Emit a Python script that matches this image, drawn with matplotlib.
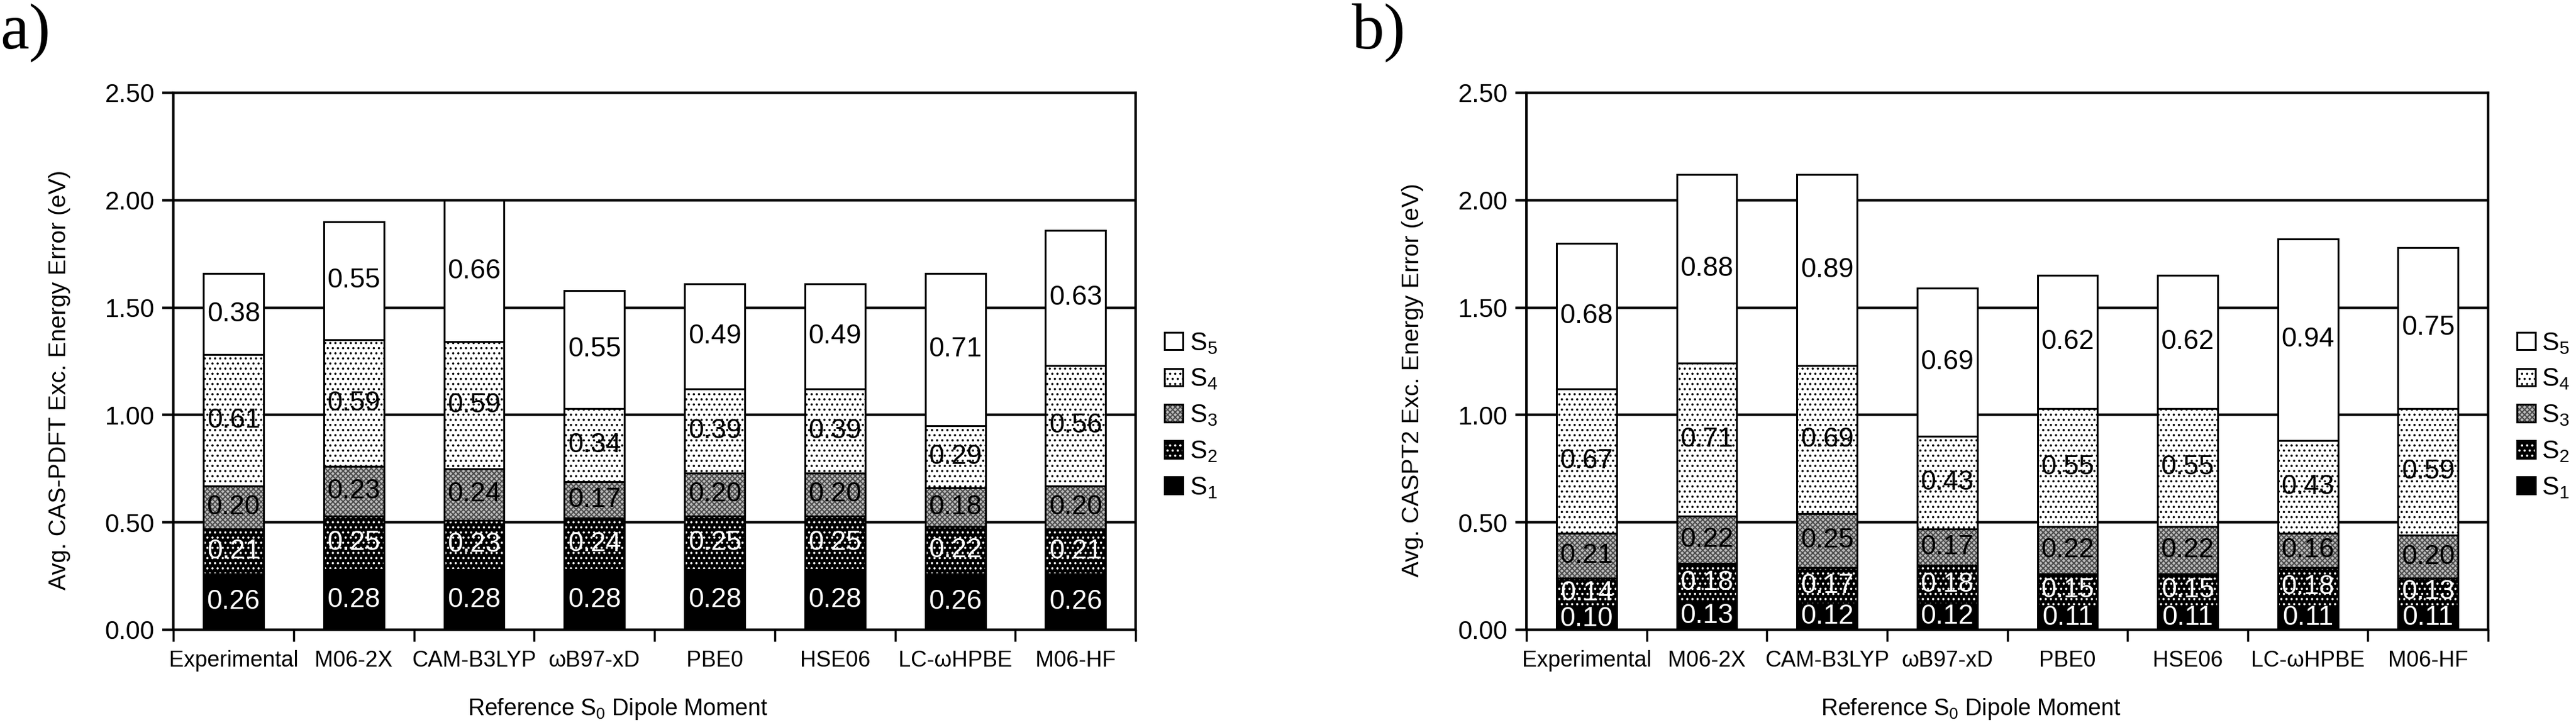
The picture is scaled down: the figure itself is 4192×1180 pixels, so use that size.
import matplotlib
matplotlib.use('Agg')
import matplotlib.pyplot as plt
from matplotlib.patches import Patch

# data
methods = ['Experimental', 'M06-2X', 'CAM-B3LYP', 'ωB97-xD', 'PBE0', 'HSE06', 'LC-ωHPBE', 'M06-HF']
states = ['S$_1$', 'S$_2$', 'S$_3$', 'S$_4$', 'S$_5$']

# panel a: CAS-PDFT
pdft_s1 = [0.26, 0.28, 0.28, 0.28, 0.28, 0.28, 0.26, 0.26]
pdft_s2 = [0.21, 0.25, 0.23, 0.24, 0.25, 0.25, 0.22, 0.21]
pdft_s3 = [0.20, 0.23, 0.24, 0.17, 0.20, 0.20, 0.18, 0.20]
pdft_s4 = [0.61, 0.59, 0.59, 0.34, 0.39, 0.39, 0.29, 0.56]
pdft_s5 = [0.38, 0.55, 0.66, 0.55, 0.49, 0.49, 0.71, 0.63]

# panel b: CASPT2
pt2_s1 = [0.10, 0.13, 0.12, 0.12, 0.11, 0.11, 0.11, 0.11]
pt2_s2 = [0.14, 0.18, 0.17, 0.18, 0.15, 0.15, 0.18, 0.13]
pt2_s3 = [0.21, 0.22, 0.25, 0.17, 0.22, 0.22, 0.16, 0.20]
pt2_s4 = [0.67, 0.71, 0.69, 0.43, 0.55, 0.55, 0.43, 0.59]
pt2_s5 = [0.68, 0.88, 0.89, 0.69, 0.62, 0.62, 0.94, 0.75]

# look of each state: face colour, hatch, hatch colour, label colour
styles = [
    ('black', '', 'black', 'white'),
    ('black', '..', 'white', 'white'),
    ('#bdbdbd', 'xxxx', '#4a4a4a', 'black'),
    ('white', '..', 'black', 'black'),
    ('white', '', 'black', 'black'),
]

plt.rcParams['font.family'] = ['Liberation Sans', 'DejaVu Sans']
plt.rcParams['mathtext.fontset'] = 'custom'
plt.rcParams['mathtext.rm'] = 'Liberation Sans'
plt.rcParams['mathtext.it'] = 'Liberation Sans'
plt.rcParams['hatch.linewidth'] = 1.4

fig = plt.figure(figsize=(41.92, 11.8), dpi=100)
ax_a = fig.add_axes([0.0673, 0.1314, 0.3736, 0.7407])
ax_b = fig.add_axes([0.5926, 0.1314, 0.3733, 0.7407])


def draw_panel(ax, series, ylabel):
    x = list(range(len(methods)))
    bottom = [0.0] * len(methods)
    handles = []
    for vals, (face, hatch, hcol, tcol), name in zip(series, styles, states):
        ax.bar(x, vals, 0.5, bottom=bottom, color=face, edgecolor=hcol,
               hatch=hatch, linewidth=0, zorder=2)
        ax.bar(x, vals, 0.5, bottom=bottom, fill=False, edgecolor='black',
               linewidth=2.2, zorder=3)
        for xi, v, b in zip(x, vals, bottom):
            ax.text(xi, b + v / 2, f'{v:.2f}', ha='center', va='center',
                    fontsize=32, color=tcol, zorder=4)
        bottom = [b + v for b, v in zip(bottom, vals)]
        handles.append((Patch(facecolor=face, edgecolor=hcol, hatch=hatch, linewidth=0),
                        Patch(fill=False, edgecolor='black', linewidth=2.2)))

    ax.set_xlim(-0.5, len(methods) - 0.5)
    ax.set_ylim(0, 2.5)
    ax.set_yticks([0, 0.5, 1.0, 1.5, 2.0, 2.5])
    ax.set_yticklabels([f'{t:.2f}' for t in [0, 0.5, 1.0, 1.5, 2.0, 2.5]])
    ax.set_xticks(x)
    ax.set_xticklabels(methods)
    ax.set_xticks([i - 0.5 for i in range(len(methods) + 1)], minor=True)
    ax.tick_params(axis='x', which='major', length=0, pad=24, labelsize=26)
    ax.tick_params(axis='x', which='minor', length=14, width=2.5, direction='out')
    ax.tick_params(axis='y', length=13, width=3, pad=9, labelsize=30)
    ax.grid(axis='y', color='black', linewidth=3, zorder=0)
    ax.set_axisbelow(True)
    for s in ['left', 'right', 'bottom', 'top']:
        ax.spines[s].set_linewidth(3)

    ax.set_ylabel(ylabel, fontsize=28)
    ax.yaxis.set_label_coords(-0.107, 0.465)
    ax.set_xlabel('Reference S$_0$ Dipole Moment', fontsize=27)
    ax.xaxis.set_label_coords(0.462, -0.125)

    ax.legend(handles[::-1], states[::-1], loc='center left',
              bbox_to_anchor=(1.03, 0.399), frameon=False, fontsize=30,
              borderpad=0, borderaxespad=0, handlelength=0.72, handleheight=0.68,
              handletextpad=0.25, labelspacing=0.45)


draw_panel(ax_a, [pdft_s1, pdft_s2, pdft_s3, pdft_s4, pdft_s5],
           'Avg. CAS-PDFT Exc. Energy Error (eV)')
draw_panel(ax_b, [pt2_s1, pt2_s2, pt2_s3, pt2_s4, pt2_s5],
           'Avg. CASPT2 Exc. Energy Error (eV)')

fig.text(0.0, 0.995, 'a)', fontsize=76, family='Liberation Serif', ha='left', va='top')
fig.text(0.5248, 0.995, 'b)', fontsize=76, family='Liberation Serif', ha='left', va='top')

fig.savefig('out.png', dpi=100)
